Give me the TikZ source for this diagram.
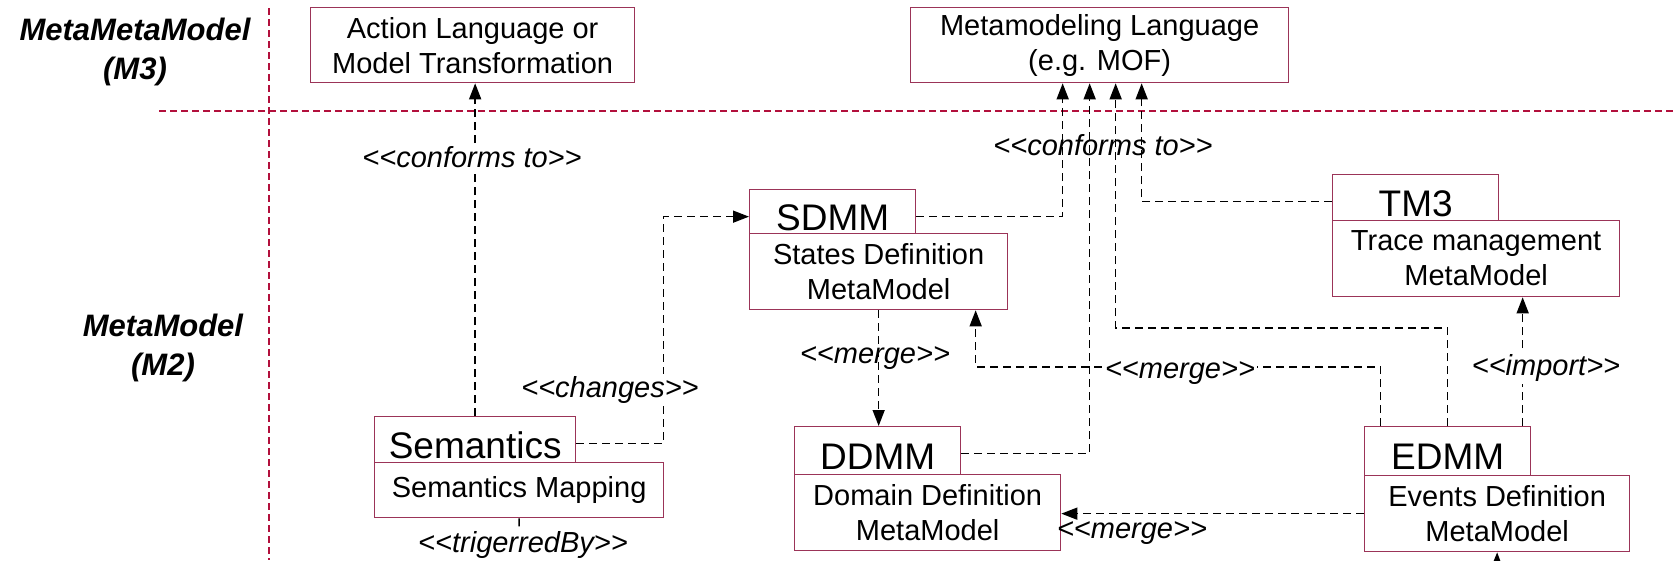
\documentclass[tikz,border=0pt]{standalone}
\usepackage{fontspec}
\setmainfont{Liberation Sans}[Ligatures=TeXOff]
\usetikzlibrary{arrows.meta,calc}
\definecolor{boxline}{RGB}{155,52,88}
\definecolor{levelline}{RGB}{178,16,60}
\tikzset{
  box/.style={draw=boxline, line width=1.3pt, rectangle, inner sep=0pt, anchor=north west, align=center,
    font=\fontsize{29}{35}\selectfont},
  tabbox/.style={box, text height=37pt, text depth=0pt, font=\fontsize{37}{40}\selectfont},
  conn/.style={draw=black, line width=1.5pt, dash pattern=on 8pt off 5pt},
  arr/.style={conn, -{Triangle[length=16pt,width=12pt]}},
  stereo/.style={font=\fontsize{29}{35}\selectfont\itshape, inner sep=2pt},
  blank/.style={fill=white},
  level/.style={draw=levelline, line width=2.2pt, dash pattern=on 7pt off 4pt},
  levelname/.style={font=\fontsize{31}{39}\selectfont\bfseries\itshape, align=center}
}
\begin{document}
\begin{tikzpicture}[x=1pt,y=-1pt]
\useasboundingbox (0,0) rectangle (1675,560);
\clip (0,0) rectangle (1675,560);

% level separators
\draw[level] (269,8) -- (269,560);
\draw[level] (159,111) -- (1675,111);
\node[levelname] (m3) at (135,52) {MetaMetaModel\\(M3)};
\node[levelname] (m2) at (163,348) {MetaModel\\(M2)};

% M3 level
\node[box, minimum width=324pt, minimum height=75pt] (action) at (310,7) {Action Language or\\Model Transformation};
\node[box, minimum width=378pt, minimum height=75pt] (mof) at (910,7) {Metamodeling Language\\(e.g. MOF)};

% M2 level packages: tab + body
\node[tabbox, minimum width=201pt, minimum height=46pt] (sem-tab) at (374,416) {Semantics};
\node[box, minimum width=289pt, minimum height=55pt] (sem-body) at (374,462) {Semantics Mapping};

\node[tabbox, minimum width=166pt, minimum height=44pt] (sdmm-tab) at (749,189) {SDMM};
\node[box, minimum width=258pt, minimum height=76pt] (sdmm-body) at (749,233) {States Definition\\MetaModel};

\node[tabbox, minimum width=166pt, minimum height=48pt] (ddmm-tab) at (794,426) {DDMM};
\node[box, minimum width=266pt, minimum height=76pt] (ddmm-body) at (794,474) {Domain Definition\\MetaModel};

\node[tabbox, minimum width=166pt, minimum height=46pt] (tm3-tab) at (1332,174) {TM3};
\node[box, minimum width=287pt, minimum height=76pt] (tm3-body) at (1332,220) {Trace management\\MetaModel};

\node[tabbox, minimum width=166pt, minimum height=49pt] (edmm-tab) at (1364,426) {EDMM};
\node[box, minimum width=265pt, minimum height=76pt] (edmm-body) at (1364,475) {Events Definition\\MetaModel};

% free ends below the picture
\coordinate (trig-end) at (518.5,600);
\coordinate (edmm-src) at (1496.5,600);

% conforms to
\draw[arr] (sem-tab.north) -- (sem-tab.north |- action.south);
\node[stereo, blank] (lbl-conf1) at (472,157) {<<conforms to>>};

\draw[arr] ([yshift=-5pt]sdmm-tab.east) -| ([xshift=-37pt]mof.south);
\draw[arr] ([yshift=-3pt]ddmm-tab.east) -| ([xshift=-10pt]mof.south);
\draw[arr] (edmm-tab.north) -- ++(0,-98) -| ([xshift=16pt]mof.south);
\draw[arr] ([yshift=-4pt]tm3-tab.west) -| ([xshift=42pt]mof.south);
\node[stereo] (lbl-conf2) at (1103,145) {<<conforms to>>};

% changes
\draw[arr] ([yshift=-4pt]sem-tab.east) -- ++(87,0) |- ([yshift=-5pt]sdmm-tab.west);
\node[stereo, blank] (lbl-changes) at (610,390) {<<changes>>};

% merges
\draw[arr] (sdmm-body.south) -- (sdmm-body.south |- ddmm-tab.north);
\node[stereo] (lbl-merge1) at (875,358) {<<merge>>};

\draw[arr] ([xshift=-67pt]edmm-tab.north) -- ++(0,-59) -| ([xshift=97pt]sdmm-body.south);
\node[stereo, blank] (lbl-merge2) at (1180,373) {<<merge>>};

\draw[arr] (edmm-body.west) -- (edmm-body.west -| ddmm-body.east);
\node[stereo] (lbl-merge3) at (1132,533) {<<merge>>};

% import
\draw[arr] ([xshift=75pt]edmm-tab.north) -- ([xshift=75pt]edmm-tab.north |- tm3-body.south);
\node[stereo, blank] (lbl-import) at (1546,368) {<<import>>};

% triggered by
\draw[conn] (sem-body.south) -- (trig-end);
\node[stereo, blank] (lbl-trig) at (523,545) {<<trigerredBy>>};

\draw[arr] (edmm-src) -- (edmm-body.south);
\end{tikzpicture}
\end{document}
